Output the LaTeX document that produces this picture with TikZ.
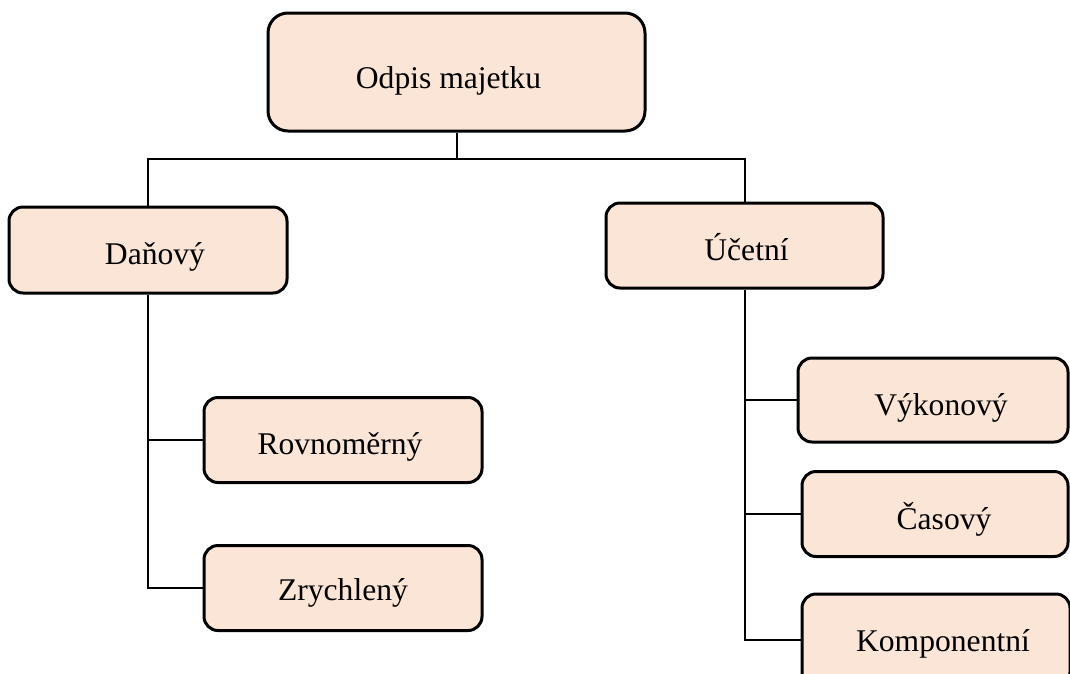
\documentclass[tikz,border=0pt]{standalone}
\usepackage{fontspec}
\setmainfont{Liberation Serif}
\definecolor{peach}{HTML}{FBE5D6}
\tikzset{
  box/.style={draw=black, fill=peach, line width=3pt, rounded corners=14pt,
    font=\fontsize{31.6}{38}\selectfont, inner sep=0pt, align=center,
    text height=29pt, text depth=0pt},
  conn/.style={draw=black, line width=2pt}
}
\begin{document}
\begin{tikzpicture}[x=1pt,y=-1pt]
\useasboundingbox (0,0) rectangle (1070,673);
\node[box, rounded corners=20pt, minimum width=377pt, minimum height=118pt, text height=33pt] (top) at (456.5,72) {\hspace*{-16pt}Odpis majetku};
\node[box, minimum width=278pt, minimum height=86pt] (dan) at (148,250) {\hspace*{14pt}Daňový};
\node[box, minimum width=277pt, minimum height=85pt] (uc) at (744.5,245.5) {\hspace*{4pt}Účetní};
\node[box, minimum width=278pt, minimum height=85pt] (rov) at (343,440) {\hspace*{-6pt}Rovnoměrný};
\node[box, minimum width=278pt, minimum height=85pt, text height=24pt] (zry) at (343,588) {Zrychlený};
\node[box, minimum width=270pt, minimum height=84pt, text height=30pt] (vyk) at (933,400) {\hspace*{16pt}Výkonový};
\node[box, minimum width=266pt, minimum height=85pt, text height=31pt] (cas) at (935,514) {\hspace*{18pt}Časový};
\node[box, minimum width=268pt, minimum height=92pt, text height=22pt] (kom) at (936,640) {\hspace*{14pt}Komponentní};
\draw[conn] (top.south) -- ++(0,26) coordinate (b);
\draw[conn] (dan.north) |- (b) -| (uc.north);
\draw[conn] (dan.south) |- (zry.west);
\draw[conn] (rov.west) -- (rov.west -| dan.south);
\draw[conn] (uc.south) |- (kom.west);
\draw[conn] (vyk.west) -- (vyk.west -| uc.south);
\draw[conn] (cas.west) -- (cas.west -| uc.south);
\end{tikzpicture}
\end{document}
